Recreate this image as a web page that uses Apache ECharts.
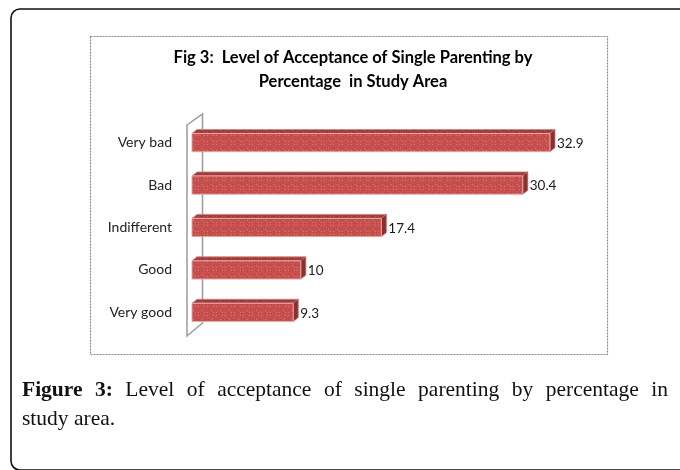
<!DOCTYPE html>
<html>
<head>
<meta charset="utf-8">
<script src="https://cdn.jsdelivr.net/npm/echarts@6/dist/echarts.min.js"></script>
<style>
  html, body { margin: 0; padding: 0; background: #fff; }
  #wrap { position: relative; width: 680px; height: 470px; overflow: hidden; }
  #chart { position: absolute; left: 0; top: 0; width: 680px; height: 470px; }
  .cap { position: absolute; left: 22px; width: 646px; font-family: "Liberation Serif", serif; font-size: 21.5px; line-height: 29px; color: #111; white-space: nowrap; }
  .cap b { font-weight: bold; }
  #cap1 { top: 375px; text-align: justify; text-align-last: justify; }
  #cap2 { top: 404px; }
</style>
</head>
<body>
<div id="wrap">
  <div id="chart"></div>
  <div class="cap" id="cap1"><b>Figure 3:</b> Level of acceptance of single parenting by percentage in</div>
  <div class="cap" id="cap2">study area.</div>
</div>
<script>
const categories = ['Very bad', 'Bad', 'Indifferent', 'Good', 'Very good']
const values = [32.9, 30.4, 17.4, 10, 9.3]
const chartTitle = 'Fig 3:  Level of Acceptance of Single Parenting by\nPercentage  in Study Area'

// speckled red texture like the old excel fill
function speckle(base, light, dark) {
  const c = document.createElement('canvas')
  c.width = 9; c.height = 9
  const ctx = c.getContext('2d')
  ctx.fillStyle = base
  ctx.fillRect(0, 0, 9, 9)
  for (let i = 0; i < 9; i++) {
    for (let j = 0; j < 9; j++) {
      const k = (i * 7 + j * 13 + i * j) % 6
      if (k === 0) { ctx.fillStyle = light; ctx.fillRect(i, j, 1, 1) }
      else if (k === 3) { ctx.fillStyle = dark; ctx.fillRect(i, j, 1, 1) }
    }
  }
  return { image: c, repeat: 'repeat' }
}

const frontFill = speckle('#c9514f', '#dc7370', '#b54543')
const topFill = speckle('#a43d3b', '#b85250', '#923331')
const sideFill = '#8c2f2d'

const chart = echarts.init(document.getElementById('chart'))

function renderWall(params) {
  const cs = params.coordSys
  const fx = cs.x - 5, bx = cs.x + 10.5
  return {
    type: 'polygon',
    shape: { points: [
      [fx, cs.y + 3.6], [bx, cs.y - 7.4],
      [bx, cs.y + cs.height - 10.6], [fx, cs.y + cs.height + 2.4]
    ] },
    style: { fill: '#fff', stroke: '#9a9a9a', lineWidth: 1.5 }
  }
}

function renderBar(params, api) {
  const v = api.value(0)
  const c = api.value(1)
  const p0 = api.coord([0, c])
  const p1 = api.coord([v, c])
  const h = api.size([0, 1])[1] * 0.43
  const dx = 5, dy = 4
  const x0 = p0[0], x1 = p1[0]
  const y0 = p0[1] - h / 2
  return {
    type: 'group',
    children: [
      {
        type: 'polygon',
        shape: { points: [[x0, y0], [x0 + dx, y0 - dy], [x1 + dx, y0 - dy], [x1, y0]] },
        style: { fill: topFill, stroke: '#c98583', lineWidth: 0.8 }
      },
      {
        type: 'polygon',
        shape: { points: [[x1, y0], [x1 + dx, y0 - dy], [x1 + dx, y0 + h - dy], [x1, y0 + h]] },
        style: { fill: sideFill, stroke: '#b86a68', lineWidth: 0.8 }
      },
      {
        type: 'rect',
        shape: { x: x0, y: y0, width: x1 - x0, height: h },
        style: { fill: frontFill, stroke: '#e4aaa8', lineWidth: 1 }
      },
      {
        type: 'text',
        x: x1 + dx + 2,
        y: p0[1] + 1,
        style: {
          text: String(v),
          fontFamily: 'Lato',
          fontSize: 13.5,
          fill: '#1a1a1a',
          verticalAlign: 'middle',
          align: 'left'
        }
      }
    ]
  }
}

chart.setOption({
  animation: false,
  title: {
    text: chartTitle,
    left: 348,
    top: 41,
    textAlign: 'center',
    textStyle: { fontFamily: 'Lato', fontWeight: 'bold', fontSize: 16.5, lineHeight: 24, color: '#000' }
  },
  grid: { left: 192, top: 121.4, width: 380.8, height: 212.2 },
  xAxis: { type: 'value', min: 0, max: 35, show: false },
  yAxis: {
    type: 'category',
    data: categories,
    inverse: true,
    axisLine: { show: false },
    axisTick: { show: false },
    splitLine: { show: false },
    axisLabel: { margin: 20, fontFamily: 'Lato', fontSize: 14, color: '#222' }
  },
  graphic: [
    {
      type: 'rect', z: -10,
      shape: { x: 11, y: 9, width: 720, height: 461, r: 9 },
      style: { fill: 'none', stroke: '#111', lineWidth: 1.6 }
    },
    {
      type: 'rect', z: -10,
      shape: { x: 90.5, y: 36.5, width: 517, height: 318 },
      style: { fill: 'none', stroke: '#8a8a8a', lineWidth: 1.2, lineDash: [2, 1] }
    }
  ],
  series: [
    {
      type: 'custom',
      data: [[0, 0]],
      renderItem: renderWall,
      silent: true,
      z: 1
    },
    {
      type: 'custom',
      data: values.map((v, i) => [v, i]),
      encode: { x: 0, y: 1 },
      renderItem: renderBar,
      z: 2
    }
  ]
})
</script>
</body>
</html>
